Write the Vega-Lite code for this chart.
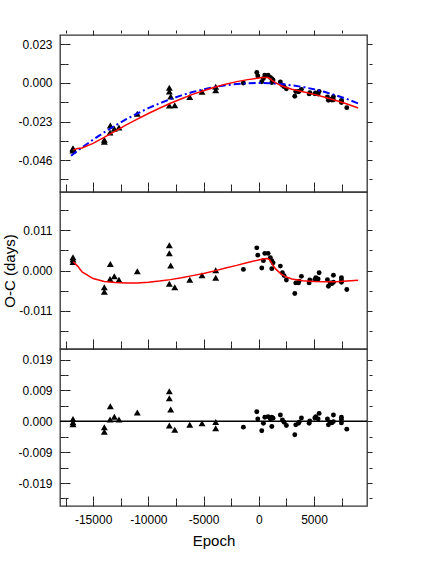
{
  "$schema": "https://vega.github.io/schema/vega-lite/v6.json",
  "padding": {"left": 1, "top": 34, "right": 5, "bottom": 5},
  "spacing": 0,
  "bounds": "flush",
  "config": {
    "axis": {"labelFont": "Liberation Sans", "labelFontSize": 12, "labelColor": "black", "titleFont": "Liberation Sans", "titleFontSize": 15, "titleFontWeight": "normal", "titleColor": "black", "domain": false, "grid": false, "tickColor": "#222", "tickWidth": 1, "tickSize": 5, "offset": -5, "labelPadding": 8, "gridColor": "#222", "gridWidth": 1, "gridOpacity": 1},
    "view": {"stroke": "#333", "strokeWidth": 1.3},
    "concat": {"spacing": 0}
  },
  "datasets": {
    "pts": [
      {"e": -16825, "p1": -0.0389, "p2": 0.0036, "p3": 0.0007, "t": "tri"},
      {"e": -16825, "p1": -0.0395, "p2": 0.0030, "p3": -0.0003, "t": "tri"},
      {"e": -16825, "p1": -0.0402, "p2": 0.0023, "p3": -0.0009, "t": "tri"},
      {"e": -13985, "p1": -0.0339, "p2": -0.0046, "p3": -0.0018, "t": "tri"},
      {"e": -13985, "p1": -0.0351, "p2": -0.0058, "p3": -0.0032, "t": "tri"},
      {"e": -13443, "p1": -0.0253, "p2": 0.0018, "p3": 0.0046, "t": "tri"},
      {"e": -13470, "p1": -0.0295, "p2": -0.0023, "p3": 0.0005, "t": "tri"},
      {"e": -13080, "p1": -0.0273, "p2": -0.0016, "p3": 0.0014, "t": "tri"},
      {"e": -12660, "p1": -0.0265, "p2": -0.0025, "p3": 0.0005, "t": "tri"},
      {"e": -11000, "p1": -0.0184, "p2": -0.0002, "p3": 0.0027, "t": "tri"},
      {"e": -8100, "p1": -0.0029, "p2": 0.0069, "p3": 0.0091, "t": "tri"},
      {"e": -8100, "p1": -0.0051, "p2": 0.0047, "p3": 0.0070, "t": "tri"},
      {"e": -7975, "p1": -0.0081, "p2": 0.0014, "p3": 0.0036, "t": "tri"},
      {"e": -8100, "p1": -0.0134, "p2": -0.0036, "p3": -0.0013, "t": "tri"},
      {"e": -7610, "p1": -0.0133, "p2": -0.0046, "p3": -0.0026, "t": "tri"},
      {"e": -6250, "p1": -0.0084, "p2": -0.0025, "p3": -0.0011, "t": "tri"},
      {"e": -5140, "p1": -0.0053, "p2": -0.0013, "p3": -0.0006, "t": "tri"},
      {"e": -3900, "p1": -0.0022, "p2": 0.0001, "p3": -0.0002, "t": "tri"},
      {"e": -3900, "p1": -0.0043, "p2": -0.0020, "p3": -0.0021, "t": "tri"},
      {"e": -1395, "p1": 0.0000, "p2": 0.0003, "p3": -0.0018, "t": "dot"},
      {"e": -180, "p1": 0.0062, "p2": 0.0062, "p3": 0.0029, "t": "dot"},
      {"e": -90, "p1": 0.0042, "p2": 0.0042, "p3": 0.0007, "t": "dot"},
      {"e": 270, "p1": 0.0007, "p2": 0.0007, "p3": -0.0029, "t": "dot"},
      {"e": 420, "p1": 0.0027, "p2": 0.0027, "p3": -0.0006, "t": "dot"},
      {"e": 545, "p1": 0.0047, "p2": 0.0047, "p3": 0.0012, "t": "dot"},
      {"e": 845, "p1": 0.0046, "p2": 0.0047, "p3": 0.0014, "t": "dot"},
      {"e": 1050, "p1": 0.0033, "p2": 0.0035, "p3": 0.0007, "t": "dot"},
      {"e": 1180, "p1": 0.0025, "p2": 0.0027, "p3": 0.0012, "t": "dot"},
      {"e": 1295, "p1": 0.0018, "p2": 0.0021, "p3": 0.0009, "t": "dot"},
      {"e": 1180, "p1": 0.0003, "p2": 0.0005, "p3": -0.0016, "t": "dot"},
      {"e": 1955, "p1": 0.0006, "p2": 0.0012, "p3": 0.0019, "t": "dot"},
      {"e": 2140, "p1": -0.0013, "p2": -0.0006, "p3": 0.0004, "t": "dot"},
      {"e": 2290, "p1": -0.0022, "p2": -0.0014, "p3": -0.0003, "t": "dot"},
      {"e": 2500, "p1": -0.0035, "p2": -0.0026, "p3": -0.0013, "t": "dot"},
      {"e": 3260, "p1": -0.0079, "p2": -0.0063, "p3": -0.0041, "t": "dot"},
      {"e": 3350, "p1": -0.0051, "p2": -0.0034, "p3": -0.0011, "t": "dot"},
      {"e": 3590, "p1": -0.0053, "p2": -0.0034, "p3": -0.0006, "t": "dot"},
      {"e": 3650, "p1": -0.0049, "p2": -0.0029, "p3": -0.0003, "t": "dot"},
      {"e": 3860, "p1": -0.0038, "p2": -0.0016, "p3": 0.0010, "t": "dot"},
      {"e": 4560, "p1": -0.0065, "p2": -0.0034, "p3": -0.0006, "t": "dot"},
      {"e": 4620, "p1": -0.0058, "p2": -0.0026, "p3": 0.0001, "t": "dot"},
      {"e": 5075, "p1": -0.0064, "p2": -0.0025, "p3": 0.0010, "t": "dot"},
      {"e": 5165, "p1": -0.0060, "p2": -0.0020, "p3": 0.0014, "t": "dot"},
      {"e": 5375, "p1": -0.0066, "p2": -0.0023, "p3": 0.0007, "t": "dot"},
      {"e": 5465, "p1": -0.0051, "p2": -0.0006, "p3": 0.0024, "t": "dot"},
      {"e": 6215, "p1": -0.0083, "p2": -0.0025, "p3": 0.0007, "t": "dot"},
      {"e": 6305, "p1": -0.0103, "p2": -0.0043, "p3": -0.0011, "t": "dot"},
      {"e": 6460, "p1": -0.0097, "p2": -0.0034, "p3": -0.0003, "t": "dot"},
      {"e": 6615, "p1": -0.0102, "p2": -0.0036, "p3": -0.0005, "t": "dot"},
      {"e": 6760, "p1": -0.0082, "p2": -0.0013, "p3": 0.0019, "t": "dot"},
      {"e": 6760, "p1": -0.0101, "p2": -0.0032, "p3": -0.0001, "t": "dot"},
      {"e": 7485, "p1": -0.0104, "p2": -0.0020, "p3": 0.0012, "t": "dot"},
      {"e": 7485, "p1": -0.0110, "p2": -0.0026, "p3": 0.0005, "t": "dot"},
      {"e": 7485, "p1": -0.0116, "p2": -0.0032, "p3": -0.0005, "t": "dot"},
      {"e": 7970, "p1": -0.0147, "p2": -0.0052, "p3": -0.0024, "t": "dot"}
    ],
    "quad": [
      {"e": -17000, "v": -0.0434}, {"e": -16000, "v": -0.0384}, {"e": -15000, "v": -0.0338},
      {"e": -14000, "v": -0.0294}, {"e": -13000, "v": -0.0254}, {"e": -12000, "v": -0.0216},
      {"e": -11000, "v": -0.0182}, {"e": -10000, "v": -0.0150}, {"e": -9000, "v": -0.0122},
      {"e": -8000, "v": -0.0096}, {"e": -7000, "v": -0.0074}, {"e": -6000, "v": -0.0054},
      {"e": -5000, "v": -0.0038}, {"e": -4000, "v": -0.0024}, {"e": -3000, "v": -0.0014},
      {"e": -2000, "v": -0.0006}, {"e": -1000, "v": -0.0002}, {"e": 0, "v": 0.0},
      {"e": 1000, "v": -0.0002}, {"e": 2000, "v": -0.0006}, {"e": 3000, "v": -0.0014},
      {"e": 4000, "v": -0.0024}, {"e": 5000, "v": -0.0038}, {"e": 6000, "v": -0.0054},
      {"e": 7000, "v": -0.0074}, {"e": 8000, "v": -0.0096}, {"e": 9000, "v": -0.0122}
    ],
    "fit1": [
      {"e": -16800, "v": -0.0399}, {"e": -16400, "v": -0.0391}, {"e": -16000, "v": -0.0388},
      {"e": -15000, "v": -0.0360}, {"e": -14000, "v": -0.0324}, {"e": -13000, "v": -0.0287},
      {"e": -12000, "v": -0.0250}, {"e": -11000, "v": -0.0216}, {"e": -10000, "v": -0.0182},
      {"e": -9000, "v": -0.0151}, {"e": -8000, "v": -0.0121}, {"e": -7000, "v": -0.0094},
      {"e": -6000, "v": -0.0068}, {"e": -5000, "v": -0.0046}, {"e": -4000, "v": -0.0025},
      {"e": -3000, "v": -0.0007}, {"e": -2000, "v": 0.0008}, {"e": -1000, "v": 0.0020},
      {"e": 0, "v": 0.0029}, {"e": 400, "v": 0.0032}, {"e": 800, "v": 0.0032},
      {"e": 1000, "v": 0.0027}, {"e": 1200, "v": 0.0016}, {"e": 1500, "v": 0.0002},
      {"e": 2000, "v": -0.0015}, {"e": 2500, "v": -0.0027}, {"e": 3000, "v": -0.0037},
      {"e": 4000, "v": -0.0052}, {"e": 5000, "v": -0.0068}, {"e": 6000, "v": -0.0085},
      {"e": 7000, "v": -0.0105}, {"e": 8000, "v": -0.0125}, {"e": 9000, "v": -0.0149}
    ],
    "fit2": [
      {"e": -16800, "v": 0.0024}, {"e": -16400, "v": 0.0012}, {"e": -16000, "v": -0.0004},
      {"e": -15000, "v": -0.0022}, {"e": -14000, "v": -0.0030}, {"e": -13000, "v": -0.0033},
      {"e": -12000, "v": -0.0034}, {"e": -11000, "v": -0.0034}, {"e": -10000, "v": -0.0032},
      {"e": -9000, "v": -0.0029}, {"e": -8000, "v": -0.0025}, {"e": -7000, "v": -0.0020},
      {"e": -6000, "v": -0.0014}, {"e": -5000, "v": -0.0008}, {"e": -4000, "v": -0.0001},
      {"e": -3000, "v": 0.0007}, {"e": -2000, "v": 0.0014}, {"e": -1000, "v": 0.0022},
      {"e": 0, "v": 0.0029}, {"e": 400, "v": 0.0032}, {"e": 800, "v": 0.0033},
      {"e": 1000, "v": 0.0029}, {"e": 1200, "v": 0.0018}, {"e": 1500, "v": 0.0005},
      {"e": 2000, "v": -0.0009}, {"e": 2500, "v": -0.0018}, {"e": 3000, "v": -0.0023},
      {"e": 4000, "v": -0.0028}, {"e": 5000, "v": -0.0030}, {"e": 6000, "v": -0.0031},
      {"e": 7000, "v": -0.0031}, {"e": 8000, "v": -0.0029}, {"e": 9000, "v": -0.0027}
    ],
    "zero": [{"v": 0}]
  },
  "vconcat": [
    {
      "width": 307, "height": 157,
      "layer": [
        {
          "data": {"name": "pts"},
          "mark": {"type": "point", "filled": true, "color": "black", "opacity": 1},
          "encoding": {
            "x": {"field": "e", "type": "quantitative", "scale": {"domain": [-18000, 9800], "nice": false, "zero": false},
              "axis": {"orient": "bottom", "title": null, "labels": false, "values": [-17500, -15000, -12500, -10000, -7500, -5000, -2500, 0, 2500, 5000, 7500],
                "grid": true,
                "gridDash": {"condition": {"test": "datum.value % 5000 != 0", "value": [3, 151, 3]}, "value": [5, 147, 5]}}},
            "y": {"field": "p1", "type": "quantitative", "scale": {"domain": [-0.065, 0.0286], "nice": false, "zero": false},
              "axis": {"orient": "left", "title": null, "minExtent": 42, "maxExtent": 42, "values": [-0.0575, -0.046, -0.0345, -0.023, -0.0115, 0, 0.0115, 0.023],
                "labelExpr": "abs(datum.value/0.023 - round(datum.value/0.023)) > 0.1 ? '' : replace(format(datum.value, '.3f'), '\u2212', '-')",
                "grid": true,
                "gridDash": {"condition": {"test": "abs(datum.value/0.023 - round(datum.value/0.023)) > 0.1", "value": [3, 301, 3]}, "value": [5, 297, 5]}}},
            "shape": {"field": "t", "type": "nominal", "scale": {"domain": ["tri", "dot"], "range": ["triangle-up", "circle"]}, "legend": null},
            "size": {"field": "t", "type": "nominal", "scale": {"domain": ["tri", "dot"], "range": [48, 24]}, "legend": null}
          }
        },
        {
          "data": {"name": "quad"},
          "mark": {"type": "line", "color": "#0000ff", "strokeWidth": 2, "strokeDash": [7, 3, 2, 3]},
          "encoding": {
            "x": {"field": "e", "type": "quantitative", "scale": {"domain": [-18000, 9800], "nice": false, "zero": false},
              "axis": {"orient": "top", "title": null, "labels": false, "ticks": false, "values": [0]}},
            "y": {"field": "v", "type": "quantitative", "scale": {"domain": [-0.065, 0.0286], "nice": false, "zero": false},
              "axis": {"orient": "right", "title": null, "labels": false, "ticks": false, "values": [0]}}
          }
        },
        {
          "data": {"name": "fit1"},
          "mark": {"type": "line", "color": "#ff0000", "strokeWidth": 1.5},
          "encoding": {
            "x": {"field": "e", "type": "quantitative", "scale": {"domain": [-18000, 9800], "nice": false, "zero": false}, "axis": null},
            "y": {"field": "v", "type": "quantitative", "scale": {"domain": [-0.065, 0.0286], "nice": false, "zero": false}, "axis": null}
          }
        }
      ],
      "resolve": {"axis": {"x": "independent", "y": "independent"}}
    },
    {
      "width": 307, "height": 157,
      "layer": [
        {
          "data": {"name": "pts"},
          "mark": {"type": "point", "filled": true, "color": "black", "opacity": 1},
          "encoding": {
            "x": {"field": "e", "type": "quantitative", "scale": {"domain": [-18000, 9800], "nice": false, "zero": false},
              "axis": {"orient": "bottom", "title": null, "labels": false, "values": [-17500, -15000, -12500, -10000, -7500, -5000, -2500, 0, 2500, 5000, 7500],
                "grid": true,
                "gridDash": {"condition": {"test": "datum.value % 5000 != 0", "value": [3, 151, 3]}, "value": [5, 147, 5]}}},
            "y": {"field": "p2", "type": "quantitative", "scale": {"domain": [-0.0215, 0.0215], "nice": false, "zero": false},
              "axis": {"orient": "left", "title": "O-C (days)", "titlePadding": 6, "minExtent": 42, "maxExtent": 42, "values": [-0.0165, -0.011, -0.0055, 0, 0.0055, 0.011, 0.0165],
                "labelExpr": "abs(datum.value/0.011 - round(datum.value/0.011)) > 0.1 ? '' : replace(format(datum.value, '.3f'), '\u2212', '-')",
                "grid": true,
                "gridDash": {"condition": {"test": "abs(datum.value/0.011 - round(datum.value/0.011)) > 0.1", "value": [3, 301, 3]}, "value": [5, 297, 5]}}},
            "shape": {"field": "t", "type": "nominal", "scale": {"domain": ["tri", "dot"], "range": ["triangle-up", "circle"]}, "legend": null},
            "size": {"field": "t", "type": "nominal", "scale": {"domain": ["tri", "dot"], "range": [48, 24]}, "legend": null}
          }
        },
        {
          "data": {"name": "fit2"},
          "mark": {"type": "line", "color": "#ff0000", "strokeWidth": 1.5},
          "encoding": {
            "x": {"field": "e", "type": "quantitative", "scale": {"domain": [-18000, 9800], "nice": false, "zero": false},
              "axis": {"orient": "top", "title": null, "labels": false, "ticks": false, "values": [0]}},
            "y": {"field": "v", "type": "quantitative", "scale": {"domain": [-0.0215, 0.0215], "nice": false, "zero": false},
              "axis": {"orient": "right", "title": null, "labels": false, "ticks": false, "values": [0]}}
          }
        }
      ],
      "resolve": {"axis": {"x": "independent", "y": "independent"}}
    },
    {
      "width": 307, "height": 157,
      "layer": [
        {
          "data": {"name": "pts"},
          "mark": {"type": "point", "filled": true, "color": "black", "opacity": 1},
          "encoding": {
            "x": {"field": "e", "type": "quantitative", "scale": {"domain": [-18000, 9800], "nice": false, "zero": false},
              "axis": {"orient": "bottom", "title": "Epoch", "titlePadding": 8, "values": [-17500, -15000, -12500, -10000, -7500, -5000, -2500, 0, 2500, 5000, 7500],
                "labelExpr": "datum.value % 5000 != 0 ? '' : replace(format(datum.value, 'd'), '\u2212', '-')",
                "grid": true,
                "gridDash": {"condition": {"test": "datum.value % 5000 != 0", "value": [3, 151, 3]}, "value": [5, 147, 5]}}},
            "y": {"field": "p3", "type": "quantitative", "scale": {"domain": [-0.0258, 0.022], "nice": false, "zero": false},
              "axis": {"orient": "left", "title": null, "minExtent": 42, "maxExtent": 42, "values": [-0.0235, -0.0188, -0.0141, -0.0094, -0.0047, 0, 0.0047, 0.0094, 0.0141, 0.0188],
                "labelExpr": "abs(datum.value/0.0094 - round(datum.value/0.0094)) > 0.1 ? '' : replace(format(datum.value, '.3f'), '\u2212', '-')",
                "grid": true,
                "gridDash": {"condition": {"test": "abs(datum.value/0.0094 - round(datum.value/0.0094)) > 0.1", "value": [3, 301, 3]}, "value": [5, 297, 5]}}},
            "shape": {"field": "t", "type": "nominal", "scale": {"domain": ["tri", "dot"], "range": ["triangle-up", "circle"]}, "legend": null},
            "size": {"field": "t", "type": "nominal", "scale": {"domain": ["tri", "dot"], "range": [48, 24]}, "legend": null}
          }
        },
        {
          "data": {"name": "zero"},
          "mark": {"type": "rule", "color": "black", "strokeWidth": 1.3},
          "encoding": {
            "x": {"datum": -18000, "type": "quantitative", "scale": {"domain": [-18000, 9800], "nice": false, "zero": false},
              "axis": {"orient": "top", "title": null, "labels": false, "ticks": false, "values": [0]}},
            "x2": {"datum": 9800},
            "y": {"field": "v", "type": "quantitative", "scale": {"domain": [-0.0258, 0.022], "nice": false, "zero": false},
              "axis": {"orient": "right", "title": null, "labels": false, "ticks": false, "values": [0]}}
          }
        }
      ],
      "resolve": {"axis": {"x": "independent", "y": "independent"}}
    }
  ]
}
